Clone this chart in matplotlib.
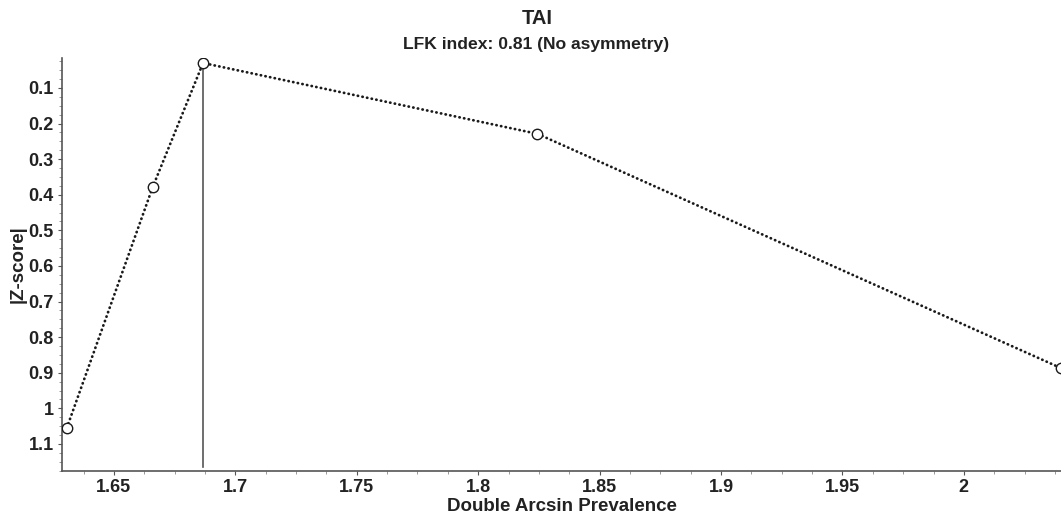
import matplotlib
matplotlib.use('Agg')
import matplotlib.pyplot as plt
from matplotlib.ticker import MultipleLocator, FuncFormatter

plt.rcParams['font.family'] = ['Liberation Sans', 'DejaVu Sans']
plt.rcParams['font.weight'] = 'bold'

# Doi plot points
prevalence = [1.6306, 1.666, 1.6867, 1.8244, 2.040]
zscore = [1.055, 0.378, 0.030, 0.229, 0.887]
peak_x = 1.6867
peak_y = 0.030
line_bottom = 1.165

fig = plt.figure(figsize=(10.61, 5.17), dpi=100)
ax = fig.add_axes([0.0584, 0.089, 0.9416, 0.799])

ax.plot(prevalence, zscore, color='#1a1a1a', lw=2.0,
        linestyle=(0, (0.1, 1.6)), dash_capstyle='round', zorder=2)
ax.plot(prevalence, zscore, 'o', mfc='white', mec='#1a1a1a', ms=7.5, mew=1.0,
        zorder=3, clip_on=True)
ax.plot([peak_x, peak_x], [peak_y, line_bottom], color='#555555', lw=1.2, zorder=1)

ax.set_xlim(1.6286, 2.040)
ax.set_ylim(1.176, 0.0157)

ax.xaxis.set_major_locator(MultipleLocator(0.05))
ax.xaxis.set_minor_locator(MultipleLocator(0.0125))
ax.yaxis.set_major_locator(MultipleLocator(0.1))
ax.yaxis.set_minor_locator(MultipleLocator(0.025))

fmt = FuncFormatter(lambda v, p: ('%.2f' % v).rstrip('0').rstrip('.'))
ax.xaxis.set_major_formatter(fmt)
ax.yaxis.set_major_formatter(fmt)

for s in ['top', 'right']:
    ax.spines[s].set_visible(False)
for s in ['left', 'bottom']:
    ax.spines[s].set_color('#555555')
    ax.spines[s].set_linewidth(1.2)

ax.tick_params(which='major', length=3, color='#555555', labelsize=13,
               labelcolor='#222222', pad=3)
ax.tick_params(which='minor', length=2, color='#888888')
for lab in ax.get_xticklabels() + ax.get_yticklabels():
    lab.set_fontweight('bold')

ax.set_xlabel('Double Arcsin Prevalence', fontsize=13.5, fontweight='bold',
              color='#222222', labelpad=1)
ax.set_ylabel('|Z-score|', fontsize=13.5, fontweight='bold', color='#222222',
              labelpad=1)

fig.text(0.506, 0.965, 'TAI', ha='center', va='center', fontsize=14.5,
         fontweight='bold', color='#222222')
fig.text(0.505, 0.914, 'LFK index: 0.81 (No asymmetry)', ha='center', va='center',
         fontsize=12.6, fontweight='bold', color='#222222')

fig.savefig('out.png', dpi=100)
